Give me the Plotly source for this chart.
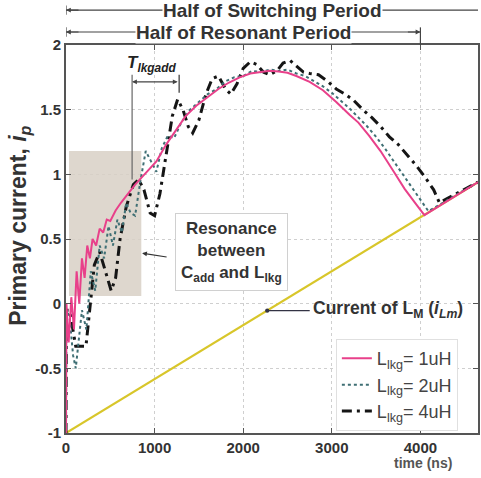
import plotly.graph_objects as go

# Primary current waveforms for three leakage inductances (time in ns, current normalised)
t_1uh = [0, 5, 30, 60, 90, 120, 150, 180, 210, 240, 270, 300, 340, 380, 420, 460, 500,
         560, 620, 700, 780, 860, 940, 1020, 1130, 1250, 1350, 1470, 1600, 1720, 1840,
         1960, 2080, 2180, 2300, 2400, 2500, 2600, 2750, 2900, 3050, 3200, 3300, 3420,
         3550, 3700, 3820, 3940, 4045, 4650]
i_1uh = [-1, 0.0, -0.3, 0.05, -0.2, 0.25, 0.0, 0.35, 0.2, 0.45, 0.35, 0.5, 0.45, 0.58,
         0.55, 0.65, 0.64, 0.72, 0.78, 0.85, 0.92, 0.98, 1.04, 1.1, 1.23, 1.35, 1.45,
         1.53, 1.6, 1.66, 1.71, 1.75, 1.78, 1.79, 1.8, 1.795, 1.785, 1.76, 1.715, 1.65,
         1.56, 1.46, 1.4, 1.3, 1.18, 1.02, 0.89, 0.78, 0.685, 0.94]

t_2uh = [0, 5, 40, 80, 110, 180, 230, 280, 330, 380, 430, 480, 530, 580, 630, 680, 730,
         780, 840, 900, 960, 1020, 1080, 1150, 1220, 1300, 1400, 1500, 1600, 1700, 1800,
         1900, 2000, 2100, 2200, 2300, 2400, 2500, 2600, 2700, 2800, 2900, 3000, 3100,
         3200, 3300, 3400, 3500, 3600, 3700, 3800, 3900, 4000, 4090, 4650]
i_2uh = [-1, -0.05, -0.1, -0.4, -0.5, -0.05, -0.2, 0.25, 0.1, 0.45, 0.35, 0.6, 0.45,
         0.65, 0.55, 0.78, 0.7, 0.68, 0.95, 1.18, 1.1, 1.02, 1.2, 1.3, 1.28, 1.4, 1.5,
         1.56, 1.62, 1.66, 1.72, 1.75, 1.76, 1.8, 1.79, 1.81, 1.8, 1.81, 1.78, 1.76,
         1.72, 1.68, 1.63, 1.57, 1.51, 1.44, 1.37, 1.29, 1.2, 1.1, 1.0, 0.9, 0.8, 0.715,
         0.94]

t_4uh = [0, 5, 40, 110, 225, 320, 380, 430, 510, 560, 610, 680, 760, 820, 880, 950,
         1000, 1060, 1130, 1200, 1260, 1320, 1380, 1430, 1500, 1580, 1650, 1720, 1800,
         1860, 1930, 2000, 2080, 2150, 2230, 2300, 2380, 2450, 2530, 2600, 2680, 2750,
         2850, 2950, 3050, 3150, 3250, 3350, 3450, 3550, 3650, 3750, 3850, 3950, 4050,
         4150, 4215, 4650]
i_4uh = [-1, -0.05, -0.05, -0.33, -0.33, 0.3, 0.4, 0.28, 0.1, 0.2, 0.5, 0.75, 0.92,
         0.96, 0.88, 0.7, 0.68, 0.85, 1.15, 1.45, 1.58, 1.5, 1.37, 1.32, 1.42, 1.62,
         1.74, 1.76, 1.66, 1.62, 1.7, 1.82, 1.87, 1.85, 1.79, 1.77, 1.8, 1.86, 1.88,
         1.84, 1.79, 1.78, 1.77, 1.72, 1.66, 1.62, 1.57, 1.5, 1.44, 1.37, 1.29, 1.23,
         1.15, 1.07, 0.98, 0.88, 0.78, 0.94]

# Magnetising inductance current
t_lm = [0, 4650]
i_lm = [-1, 0.94]

x_ticks = [0, 1000, 2000, 3000, 4000]
y_ticks = [-1, -0.5, 0, 0.5, 1, 1.5, 2]
y_tick_text = ["-1", "-0.5", "0", "0.5", "1", "1.5", "2"]

FONT = "Liberation Sans, Arial, sans-serif"

fig = go.Figure()

fig.add_trace(go.Scatter(x=t_lm, y=i_lm, mode="lines", showlegend=False,
                         line=dict(color="#d8c62a", width=2.2)))
fig.add_trace(go.Scatter(x=t_4uh, y=i_4uh, mode="lines", name="L<sub>lkg</sub>= 4uH",
                         legendrank=3,
                         line=dict(color="#151515", width=3, dash="10px,5px,3px,5px")))
fig.add_trace(go.Scatter(x=t_2uh, y=i_2uh, mode="lines", name="L<sub>lkg</sub>= 2uH",
                         legendrank=2,
                         line=dict(color="#3f6f74", width=2, dash="dot")))
fig.add_trace(go.Scatter(x=t_1uh, y=i_1uh, mode="lines", name="L<sub>lkg</sub>= 1uH",
                         legendrank=1,
                         line=dict(color="#e8408a", width=2)))

# shaded resonance region
fig.add_shape(type="rect", x0=34, x1=850, y0=0.06, y1=1.18, layer="between",
              fillcolor="#d8d0c6", opacity=0.85, line=dict(width=0))

# T_lkgadd markers
fig.add_shape(type="line", x0=746, x1=746, y0=0.96, y1=1.77,
              line=dict(color="#666", width=1.2))
fig.add_shape(type="line", x0=1277, x1=1277, y0=1.63, y1=1.77,
              line=dict(color="#333", width=1.2))
fig.add_annotation(x=746, y=1.715, ax=1277, ay=1.715, axref="x", ayref="y",
                   showarrow=True, arrowside="end+start", arrowhead=2, arrowsize=0.8,
                   arrowwidth=1.2, arrowcolor="#444", text="")
fig.add_annotation(x=960, y=1.85, showarrow=False,
                   text="<i><b>T<sub>lkgadd</sub></b></i>",
                   font=dict(family=FONT, size=17, color="#222"))

# Half-period brackets above the axes
top1, top2 = 1.09, 1.0335
fig.add_shape(type="line", xref="x", yref="paper", x0=0, x1=4650, y0=top1, y1=top1,
              line=dict(color="#444", width=1.2))
fig.add_shape(type="line", xref="x", yref="paper", x0=0, x1=4000, y0=top2, y1=top2,
              line=dict(color="#444", width=1.2))
fig.add_shape(type="line", xref="x", yref="paper", x0=4000, x1=4000, y0=1.0, y1=top2 + 0.012,
              line=dict(color="#444", width=1.2))
fig.add_shape(type="line", xref="x", yref="paper", x0=0, x1=0, y0=top1 - 0.012, y1=top1 + 0.012,
              line=dict(color="#444", width=1.2))
fig.add_shape(type="line", xref="x", yref="paper", x0=0, x1=0, y0=top2 - 0.012, y1=top2 + 0.012,
              line=dict(color="#444", width=1.2))
for yy in (top1, top2):
    fig.add_annotation(x=0, y=yy, xref="x", yref="paper", ax=14, ay=0, showarrow=True,
                       arrowhead=2, arrowsize=0.8, arrowwidth=1.2, arrowcolor="#444", text="")
fig.add_annotation(x=4000, y=top2, xref="x", yref="paper", ax=-14, ay=0, showarrow=True,
                   arrowhead=2, arrowsize=0.8, arrowwidth=1.2, arrowcolor="#444", text="")
fig.add_annotation(x=2328, y=top1, xref="x", yref="paper", xanchor="center", yanchor="middle",
                   showarrow=False, text="<b>Half of Switching Period</b>",
                   bgcolor="white", borderpad=0,
                   font=dict(family=FONT, size=19, color="#333"))
fig.add_annotation(x=2000, y=top2, xref="x", yref="paper", xanchor="center", yanchor="middle",
                   showarrow=False, text="<b>Half of Resonant Period</b>",
                   bgcolor="white", borderpad=0,
                   font=dict(family=FONT, size=19, color="#333"))

# Resonance callout
fig.add_annotation(x=1864, y=0.4, showarrow=False,
                   text="<b>Resonance<br>between<br>C<sub>add</sub> and L<sub>lkg</sub></b>",
                   bgcolor="white", bordercolor="#d0d0d0", borderwidth=1, borderpad=5,
                   font=dict(family=FONT, size=17, color="#333"))
fig.add_annotation(x=859, y=0.39, ax=26, ay=4, showarrow=True, arrowhead=2, arrowsize=0.8,
                   arrowwidth=1.2, arrowcolor="#333", text="")

# Magnetising current callout
fig.add_annotation(x=2271, y=-0.054, ax=44, ay=0, showarrow=True, arrowhead=6,
                   arrowsize=0.9, arrowwidth=1.2, arrowcolor="#334", text="")
fig.add_annotation(x=2768, y=-0.045, xanchor="left", yanchor="middle", showarrow=False,
                   text="<b>Current of L<sub>M</sub> (<i>i<sub>Lm</sub></i>)</b>",
                   font=dict(family=FONT, size=17.5, color="#333"))

# axis titles
fig.add_annotation(x=-0.113, y=0.535, xref="paper", yref="paper", textangle=-90,
                   xanchor="center", yanchor="middle",
                   showarrow=False, text="<b>Primary current, <i>i<sub>p</sub></i></b>",
                   font=dict(family=FONT, size=23, color="#333"))
fig.add_annotation(x=4030, y=-0.078, xref="x", yref="paper", xanchor="center",
                   yanchor="middle", showarrow=False, text="<b>time (ns)</b>",
                   font=dict(family=FONT, size=14, color="#555"))

axis_common = dict(showline=True, linecolor="#555", linewidth=2, mirror="ticks",
                   ticks="inside", ticklen=5, tickcolor="#555", tickwidth=1.2,
                   showgrid=True, gridcolor="#cfcfcf", griddash="dot", gridwidth=1,
                   zeroline=False,
                   tickfont=dict(family=FONT, size=15, color="#333", weight="bold"))

fig.update_xaxes(range=[0, 4650], tickvals=x_ticks, **axis_common)
fig.update_yaxes(range=[-1, 2], tickvals=y_ticks, ticktext=y_tick_text, **axis_common)

fig.update_layout(
    width=481, height=478,
    margin=dict(l=66, r=1, t=45, b=45),
    plot_bgcolor="white", paper_bgcolor="white",
    showlegend=True,
    legend=dict(x=0.655, y=0.005, xanchor="left", yanchor="bottom",
                bgcolor="white", bordercolor="#e0e0e0", borderwidth=1,
                font=dict(family=FONT, size=18, color="#444"),
                tracegroupgap=0, itemwidth=30),
)

fig.write_html("out.html")
